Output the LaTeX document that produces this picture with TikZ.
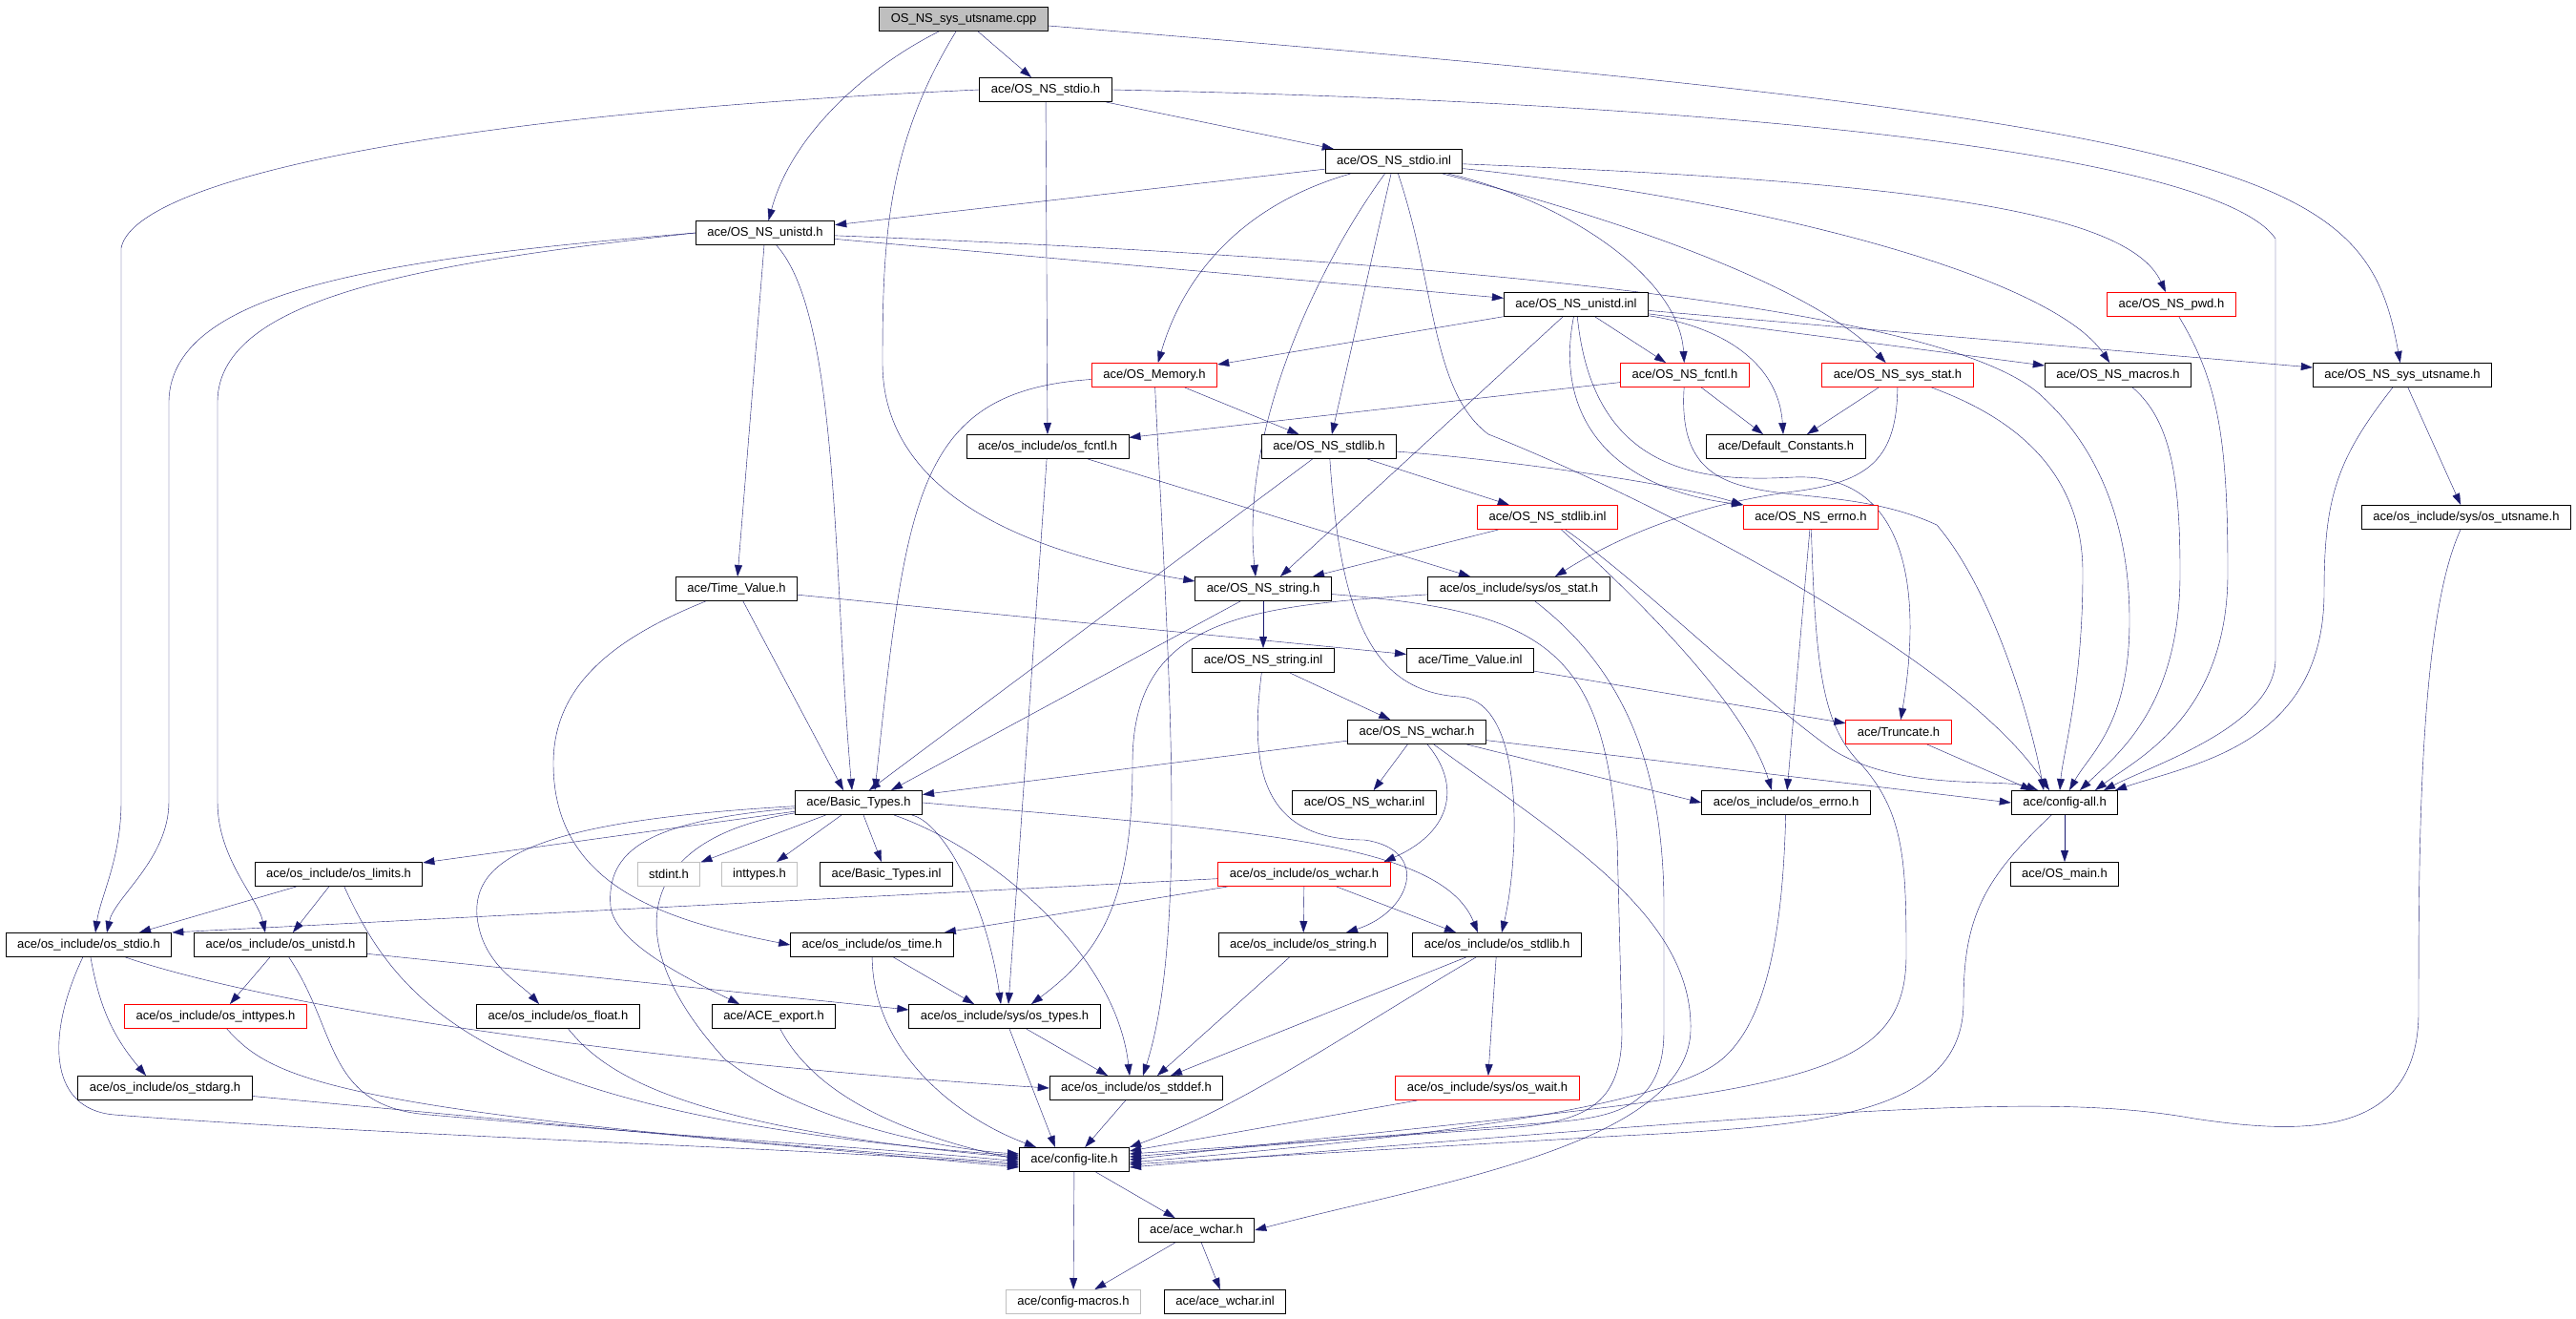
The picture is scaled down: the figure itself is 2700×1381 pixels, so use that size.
\documentclass[tikz,border=0pt]{standalone}
\usepackage{fontspec}
\usepackage{tikz}
\usetikzlibrary{arrows.meta}
\usetikzlibrary{backgrounds}
\newfontfamily\filefont{Liberation Sans}
\definecolor{edgeblue}{RGB}{25,25,112}
\definecolor{boxgrey}{RGB}{191,191,191}
\tikzstyle{filebox}=[rectangle, draw=black, fill=white, text=black, inner xsep=12pt, inner ysep=0pt, minimum height=25pt, font=\filefont\fontsize{13}{15}\selectfont]
\tikzstyle{redbox}=[filebox, draw=red]
\tikzstyle{greybox}=[filebox, draw=boxgrey]
\tikzstyle{rootbox}=[filebox, fill=boxgrey]
\tikzstyle{incl}=[-{Triangle[length=12pt,width=8pt]}, edgeblue]
\tikzset{every picture/.style={
    line width=1pt
  }
}

\begin{document}
\begin{tikzpicture}[x=1pt,y=-1pt]
        \useasboundingbox (0,0) rectangle (2700,1381);
        \node[rootbox] at (1010,20) (root) {OS\_NS\_sys\_utsname.cpp};
        \node[filebox] at (1096,94) (stdioh) {ace/OS\_NS\_stdio.h};
        \node[filebox] at (1461,169) (stdioinl) {ace/OS\_NS\_stdio.inl};
        \node[filebox] at (802,244) (unistdh) {ace/OS\_NS\_unistd.h};
        \node[filebox] at (1652,319) (unistdinl) {ace/OS\_NS\_unistd.inl};
        \node[redbox] at (2276,319) (pwdh) {ace/OS\_NS\_pwd.h};
        \node[redbox] at (1210,393) (memoryh) {ace/OS\_Memory.h};
        \node[redbox] at (1766,393) (fcntlh) {ace/OS\_NS\_fcntl.h};
        \node[redbox] at (1989,393) (sysstath) {ace/OS\_NS\_sys\_stat.h};
        \node[filebox] at (2220,393) (macrosh) {ace/OS\_NS\_macros.h};
        \node[filebox] at (2518,393) (utsnameh) {ace/OS\_NS\_sys\_utsname.h};
        \node[filebox] at (1098,468) (osfcntl) {ace/os\_include/os\_fcntl.h};
        \node[filebox] at (1393,468) (stdlibh) {ace/OS\_NS\_stdlib.h};
        \node[filebox] at (1872,468) (defconst) {ace/Default\_Constants.h};
        \node[redbox] at (1622,542) (stdlibinl) {ace/OS\_NS\_stdlib.inl};
        \node[redbox] at (1898,542) (errnoh) {ace/OS\_NS\_errno.h};
        \node[filebox] at (2585,542) (osutsname) {ace/os\_include/sys/os\_utsname.h};
        \node[filebox] at (772,617) (timevalueh) {ace/Time\_Value.h};
        \node[filebox] at (1324,617) (stringh) {ace/OS\_NS\_string.h};
        \node[filebox] at (1592,617) (osstat) {ace/os\_include/sys/os\_stat.h};
        \node[filebox] at (1324,692) (stringinl) {ace/OS\_NS\_string.inl};
        \node[filebox] at (1541,692) (timevalueinl) {ace/Time\_Value.inl};
        \node[filebox] at (1485,767) (wcharh) {ace/OS\_NS\_wchar.h};
        \node[redbox] at (1990,767) (truncateh) {ace/Truncate.h};
        \node[filebox] at (900,841) (basictypesh) {ace/Basic\_Types.h};
        \node[filebox] at (1430,841) (wcharinl) {ace/OS\_NS\_wchar.inl};
        \node[filebox] at (1872,841) (oserrno) {ace/os\_include/os\_errno.h};
        \node[filebox] at (2164,841) (configall) {ace/config-all.h};
        \node[filebox] at (355,916) (oslimits) {ace/os\_include/os\_limits.h};
        \node[greybox] at (701,916) (stdint) {stdint.h};
        \node[greybox] at (796,916) (inttypes) {inttypes.h};
        \node[filebox] at (929,916) (basictypesinl) {ace/Basic\_Types.inl};
        \node[redbox] at (1367,916) (oswchar) {ace/os\_include/os\_wchar.h};
        \node[filebox] at (2164,916) (osmain) {ace/OS\_main.h};
        \node[filebox] at (93,990) (osstdio) {ace/os\_include/os\_stdio.h};
        \node[filebox] at (294,990) (osunistd) {ace/os\_include/os\_unistd.h};
        \node[filebox] at (914,990) (ostime) {ace/os\_include/os\_time.h};
        \node[filebox] at (1366,990) (osstring) {ace/os\_include/os\_string.h};
        \node[filebox] at (1569,990) (osstdlib) {ace/os\_include/os\_stdlib.h};
        \node[redbox] at (226,1065) (osinttypes) {ace/os\_include/os\_inttypes.h};
        \node[filebox] at (585,1065) (osfloat) {ace/os\_include/os\_float.h};
        \node[filebox] at (811,1065) (aceexport) {ace/ACE\_export.h};
        \node[filebox] at (1053,1065) (ostypes) {ace/os\_include/sys/os\_types.h};
        \node[filebox] at (173,1140) (osstdarg) {ace/os\_include/os\_stdarg.h};
        \node[filebox] at (1191,1140) (osstddef) {ace/os\_include/os\_stddef.h};
        \node[redbox] at (1559,1140) (oswait) {ace/os\_include/sys/os\_wait.h};
        \node[filebox] at (1126,1215) (configlite) {ace/config-lite.h};
        \node[filebox] at (1254,1289) (acewchar) {ace/ace\_wchar.h};
        \node[greybox] at (1125,1364) (configmacros) {ace/config-macros.h};
        \node[filebox] at (1284,1364) (acewcharinl) {ace/ace\_wchar.inl};
        \begin{scope}[on background layer]
        \draw[incl] (root) -- (stdioh);
        \draw[incl] (root) .. controls (910,70) and (830,140) .. (unistdh);
        \draw[incl] (root) .. controls (930,150) and (925,250) .. (925,380) .. controls (925,520) and (1080,580) .. ([yshift=8pt]stringh.west);
        \draw[incl] (root) .. controls (2380,130) and (2480,180) .. (utsnameh);
        \draw[incl] (stdioh.west) .. controls (450,120) and (140,190) .. (127,260) -- (127,840) .. controls (127,900) and (105,940) .. ([xshift=7pt]osstdio.north);
        \draw[incl] (stdioh) -- (osfcntl);
        \draw[incl] (stdioh) -- (stdioinl);
        \draw[incl] (stdioh.east) .. controls (1900,110) and (2330,170) .. (2385,250) -- (2385,690) .. controls (2385,760) and (2260,800) .. ([xshift=41pt]configall.north);
        \draw[incl] (stdioinl) -- (unistdh);
        \draw[incl] (stdioinl) .. controls (1300,215) and (1240,290) .. (memoryh);
        \draw[incl] (stdioinl) .. controls (1380,280) and (1300,450) .. ([xshift=-8pt]stringh.north);
        \draw[incl] (stdioinl) -- (stdlibh);
        \draw[incl] (stdioinl) .. controls (1505,300) and (1500,410) .. (1560,455) .. controls (1700,510) and (2050,680) .. ([xshift=-16pt]configall.north);
        \draw[incl] (stdioinl) .. controls (1640,210) and (1760,290) .. (fcntlh);
        \draw[incl] (stdioinl) .. controls (1700,230) and (1900,300) .. (sysstath);
        \draw[incl] (stdioinl) .. controls (1850,210) and (2150,290) .. (macrosh);
        \draw[incl] (stdioinl) .. controls (2000,190) and (2230,220) .. (pwdh);
        \draw[incl] (unistdh.west) .. controls (420,270) and (180,300) .. (177,420) -- (177,840) .. controls (177,900) and (120,940) .. ([xshift=19pt]osstdio.north);
        \draw[incl] (unistdh.west) .. controls (450,275) and (230,310) .. (228,420) -- (228,840) .. controls (228,900) and (270,940) .. ([xshift=-16pt]osunistd.north);
        \draw[incl] (unistdh) -- (timevalueh);
        \draw[incl] (unistdh) .. controls (880,330) and (873,600) .. ([xshift=-7pt]basictypesh.north);
        \draw[incl] (unistdh) -- (unistdinl);
        \draw[incl] (unistdh) .. controls (1600,275) and (2050,330) .. (2140,415) .. controls (2200,470) and (2232,550) .. (2232,650) .. controls (2232,760) and (2190,790) .. ([xshift=5pt]configall.north);
        \draw[incl] (unistdinl) -- (memoryh);
        \draw[incl] (unistdinl) -- ([xshift=18pt]stringh.north);
        \draw[incl] (unistdinl) .. controls (1630,430) and (1680,510) .. (errnoh.north west);
        \draw[incl] (unistdinl) .. controls (1670,500) and (1790,505) .. (1880,500) .. controls (2000,495) and (2015,620) .. (truncateh);
        \draw[incl] (unistdinl) -- (fcntlh);
        \draw[incl] (unistdinl) .. controls (1820,345) and (1865,390) .. ([xshift=-3pt]defconst.north);
        \draw[incl] (unistdinl) -- (macrosh);
        \draw[incl] (unistdinl) -- (utsnameh);
        \draw[incl] (memoryh) -- (stdlibh);
        \draw[incl] (memoryh) .. controls (960,410) and (950,520) .. ([xshift=17pt]basictypesh.north);
        \draw[incl] (memoryh) .. controls (1225,700) and (1245,980) .. ([xshift=7pt]osstddef.north);
        \draw[incl] (fcntlh) -- (osfcntl);
        \draw[incl] (fcntlh) -- ([xshift=-24pt]defconst.north);
        \draw[incl] (fcntlh) .. controls (1755,560) and (1900,490) .. (2030,550) .. controls (2090,620) and (2130,760) .. ([xshift=-22pt]configall.north);
        \draw[incl] (sysstath) -- ([xshift=22pt]defconst.north);
        \draw[incl] (sysstath) .. controls (1988,480) and (1960,505) .. (1880,515) .. controls (1780,528) and (1700,560) .. ([xshift=38pt]osstat.north);
        \draw[incl] (sysstath) .. controls (2090,430) and (2183,480) .. (2183,600) .. controls (2183,720) and (2162,790) .. ([xshift=-5pt]configall.north);
        \draw[incl] (macrosh) .. controls (2275,440) and (2285,500) .. (2285,600) .. controls (2285,740) and (2220,790) .. ([xshift=16pt]configall.north);
        \draw[incl] (pwdh) .. controls (2325,400) and (2335,460) .. (2335,600) .. controls (2335,750) and (2240,795) .. ([xshift=32pt]configall.north);
        \draw[incl] (utsnameh) -- (osutsname);
        \draw[incl] (utsnameh) .. controls (2450,480) and (2436,520) .. (2436,620) .. controls (2436,780) and (2300,800) .. ([xshift=53pt]configall.north);
        \draw[incl] (osfcntl) -- ([xshift=-51pt]osstat.north);
        \draw[incl] (osfcntl) -- ([xshift=4pt]ostypes.north);
        \draw[incl] (stdlibh) -- ([xshift=11pt]basictypesh.north);
        \draw[incl] (stdlibh) .. controls (1405,650) and (1440,725) .. (1530,730) .. controls (1600,735) and (1592,900) .. ([xshift=5pt]osstdlib.north);
        \draw[incl] (stdlibh) -- (stdlibinl);
        \draw[incl] (stdlibh) .. controls (1560,480) and (1750,505) .. (errnoh.north west);
        \draw[incl] (stdlibinl) -- ([xshift=52pt]stringh.north);
        \draw[incl] (stdlibinl) .. controls (1720,630) and (1830,740) .. ([xshift=-15pt]oserrno.north);
        \draw[incl] (stdlibinl) .. controls (1720,610) and (1830,720) .. (1920,785) .. controls (1990,830) and (2100,815) .. ([xshift=-28pt]configall.north);
        \draw[incl] (errnoh) -- (oserrno);
        \draw[incl] (errnoh) .. controls (1903,700) and (1910,760) .. (1950,800) .. controls (1995,850) and (1998,900) .. (1998,1000) .. controls (1998,1150) and (1850,1140) .. (configlite.east);
        \draw[incl] (osstat) .. controls (1300,635) and (1187,650) .. (1187,800) .. controls (1187,950) and (1150,1000) .. ([xshift=28pt]ostypes.north);
        \draw[incl] (osstat) .. controls (1700,700) and (1744,800) .. (1744,950) -- (1744,1080) .. controls (1744,1170) and (1680,1172) .. (1600,1178) -- ([yshift=3pt]configlite.east);
        \draw[incl] (stringh) -- (stringinl);
        \draw[incl] (stringh) -- ([xshift=34pt]basictypesh.north);
        \draw[incl] (stringh) .. controls (1620,640) and (1680,680) .. (1695,880) -- (1700,1080) .. controls (1700,1160) and (1660,1175) .. (1580,1182) -- ([yshift=6pt]configlite.east);
        \draw[incl] (timevalueh) -- ([xshift=-16pt]basictypesh.north);
        \draw[incl] (timevalueh) -- (timevalueinl);
        \draw[incl] (timevalueh) .. controls (640,670) and (580,720) .. (580,800) .. controls (580,930) and (700,965) .. (ostime.west);
        \draw[incl] (stringinl) -- (wcharh);
        \draw[incl] (stringinl) .. controls (1310,800) and (1320,880) .. (1430,880) .. controls (1500,890) and (1480,955) .. ([xshift=45pt]osstring.north);
        \draw[incl] (timevalueinl) -- (truncateh);
        \draw[incl] (wcharh) -- (basictypesh);
        \draw[incl] (wcharh) -- (wcharinl);
        \draw[incl] (wcharh) .. controls (1530,820) and (1525,870) .. ([xshift=-7pt]oswchar.north east);
        \draw[incl] (wcharh) .. controls (1640,880) and (1775,960) .. (1772,1080) .. controls (1768,1200) and (1500,1240) .. (acewchar.east);
        \draw[incl] (wcharh) -- (configall.west);
        \draw[incl] (wcharh) -- (oserrno.west);
        \draw[incl] (truncateh) -- ([xshift=-34pt]configall.north);
        \draw[incl] (oserrno) .. controls (1868,1000) and (1845,1090) .. (1790,1120) .. controls (1700,1170) and (1400,1200) .. ([yshift=-3pt]configlite.east);
        \draw[incl] (configall) -- (osmain);
        \draw[incl] (configall) .. controls (2080,920) and (2058,960) .. (2058,1050) .. controls (2058,1170) and (1900,1180) .. (1700,1190) -- ([yshift=-5pt]configlite.east);
        \draw[incl] (osutsname) .. controls (2535,650) and (2535,900) .. (2535,1060) .. controls (2535,1190) and (2420,1190) .. (2300,1172) .. controls (2150,1145) and (1950,1160) .. ([yshift=-8pt]configlite.east);
        \draw[incl] (basictypesh) -- (oslimits);
        \draw[incl] (basictypesh) -- (stdint);
        \draw[incl] (basictypesh) -- (inttypes);
        \draw[incl] (basictypesh) -- (basictypesinl);
        \draw[incl] (basictypesh) .. controls (560,860) and (495,900) .. (500,960) .. controls (505,1010) and (545,1030) .. ([xshift=-20pt]osfloat.north);
        \draw[incl] (basictypesh) .. controls (680,860) and (635,890) .. (640,950) .. controls (645,990) and (730,1030) .. ([xshift=-36pt]aceexport.north);
        \draw[incl] (basictypesh) .. controls (660,880) and (650,990) .. (760,1110) .. controls (850,1180) and (1000,1205) .. ([yshift=6pt]configlite.west);
        \draw[incl] (basictypesh) .. controls (990,862) and (1035,950) .. ([xshift=-4pt]ostypes.north);
        \draw[incl] (basictypesh) .. controls (1040,890) and (1170,1000) .. ([xshift=-7pt]osstddef.north);
        \draw[incl] (basictypesh.east) .. controls (1300,870) and (1510,880) .. ([xshift=-20pt]osstdlib.north);
        \draw[incl] (oswchar) -- (osstdio.north east);
        \draw[incl] (oswchar) -- ([xshift=-10pt]ostime.north east);
        \draw[incl] (oswchar) -- (osstring);
        \draw[incl] (oswchar) -- ([xshift=-43pt]osstdlib.north);
        \draw[incl] (oslimits) -- ([xshift=53pt]osstdio.north);
        \draw[incl] (oslimits) -- ([xshift=13pt]osunistd.north);
        \draw[incl] (oslimits) .. controls (420,1060) and (520,1170) .. ([yshift=4pt]configlite.west);
        \draw[incl] (osstdio) to[bend right=15] ([xshift=-20pt]osstdarg.north);
        \draw[incl] (osstdio) .. controls (300,1060) and (700,1115) .. (osstddef.west);
        \draw[incl] (osstdio) .. controls (50,1080) and (48,1162) .. (120,1168) .. controls (400,1190) and (900,1205) .. ([yshift=-6pt]configlite.west);
        \draw[incl] (osunistd) -- ([xshift=15pt]osinttypes.north);
        \draw[incl] (osunistd) -- ([yshift=7pt]ostypes.west);
        \draw[incl] (osunistd) .. controls (355,1080) and (340,1160) .. (450,1168) .. controls (700,1190) and (950,1205) .. ([yshift=-2pt]configlite.west);
        \draw[incl] (osinttypes) .. controls (285,1130) and (340,1165) .. ([yshift=-4pt]configlite.west);
        \draw[incl] (osfloat) .. controls (630,1120) and (700,1180) .. ([yshift=2pt]configlite.west);
        \draw[incl] (aceexport) .. controls (850,1140) and (930,1185) .. (configlite.west);
        \draw[incl] (ostime) -- ([xshift=-32pt]ostypes.north);
        \draw[incl] (ostime) .. controls (915,1100) and (1000,1170) .. ([xshift=-40pt]configlite.north);
        \draw[incl] (osstring) -- ([xshift=22pt]osstddef.north);
        \draw[incl] (osstdlib) -- ([xshift=36pt]osstddef.north);
        \draw[incl] (osstdlib) .. controls (1400,1090) and (1300,1160) .. (configlite.north east);
        \draw[incl] (osstdlib) -- (oswait);
        \draw[incl] (ostypes) -- ([xshift=-30pt]osstddef.north);
        \draw[incl] (ostypes) -- ([xshift=-20pt]configlite.north);
        \draw[incl] (osstdarg) -- ([yshift=-8pt]configlite.west);
        \draw[incl] (osstddef) -- (configlite);
        \draw[incl] (oswait) -- ([yshift=9pt]configlite.east);
        \draw[incl] (configlite) -- (configmacros);
        \draw[incl] (configlite) -- (acewchar);
        \draw[incl] (acewchar) -- (configmacros);
        \draw[incl] (acewchar) -- (acewcharinl);
        \end{scope}
\end{tikzpicture}
\end{document}
